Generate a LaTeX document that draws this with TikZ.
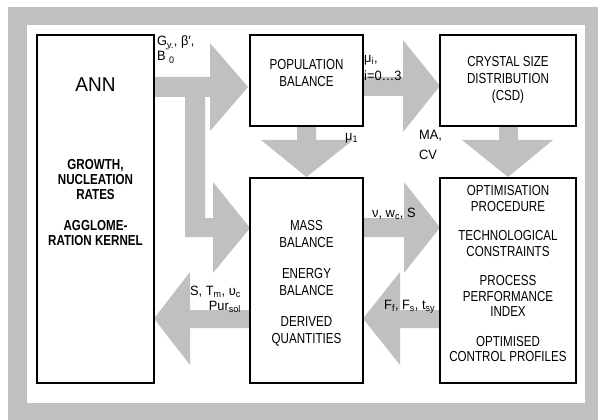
\documentclass[tikz,border=0pt]{standalone}
\usepackage{fontspec}
\setmainfont{Liberation Sans}[FakeStretch=0.8]
\newfontfamily\labelfont{Liberation Sans}[FakeStretch=0.95]
\definecolor{arrowgray}{HTML}{C0C0C0}
\tikzset{
  box/.style={draw, line width=2.4pt, fill=white, inner sep=0pt},
  boxtext/.style={align=center, font=\fontsize{14.5}{17}\selectfont, inner sep=0pt},
  anntext/.style={align=center, font=\fontsize{14.5}{15}\selectfont\bfseries, inner sep=0pt},
  flowlabel/.style={font=\labelfont\fontsize{13.5}{16}\selectfont, inner sep=0pt, align=left},
  blockarrow/.style={fill=arrowgray},
}

\begin{document}
\begin{tikzpicture}[x=1pt, y=-1pt]
    \useasboundingbox (0,0) rectangle (598,420);
    % grey frame
    \fill[arrowgray] (8,7) rectangle (598,420);
    \fill[white] (27,25) rectangle (585,403);
    % block arrows
    \fill[blockarrow] (154,77) -- (210,77) -- (210,43) -- (248,87) -- (210,131) -- (210,97) -- (154,97) -- cycle;
    \fill[blockarrow] (185,97) -- (205,97) -- (205,218) -- (213,218) -- (213,182) -- (250,228) -- (213,273) -- (213,237) -- (185,237) -- cycle;
    \fill[blockarrow] (363,77) -- (403,77) -- (403,40) -- (440,86) -- (403,132) -- (403,96) -- (363,96) -- cycle;
    \fill[blockarrow] (297,126) -- (316,126) -- (316,140) -- (353,140) -- (306.5,177) -- (261,140) -- (297,140) -- cycle;
    \fill[blockarrow] (499,126) -- (518,126) -- (518,140) -- (553,140) -- (508,177) -- (462,140) -- (499,140) -- cycle;
    \fill[blockarrow] (363,218) -- (404,218) -- (404,182) -- (440,227.5) -- (404,273) -- (404,237) -- (363,237) -- cycle;
    \fill[blockarrow] (440,310) -- (400,310) -- (400,272) -- (363,318.5) -- (400,365) -- (400,328) -- (440,328) -- cycle;
    \fill[blockarrow] (250,310) -- (190,310) -- (190,272) -- (154,318.5) -- (190,365) -- (190,328) -- (250,328) -- cycle;
    % labels on the arrows
    \node[flowlabel, anchor=north west, font=\labelfont\fontsize{13.5}{15}\selectfont] (lblgv) at (157,36) {G\textsubscript{v.}, β′,\\B\textsuperscript{˜}\textsubscript{0}};
    \node[flowlabel, anchor=north west, font=\labelfont\fontsize{13.5}{18}\selectfont] (lblmui) at (364,55) {μ\textsubscript{i},\\i=0…3};
    \node[flowlabel, anchor=base west] (lblmu1) at (345,140) {μ\textsubscript{1}};
    \node[flowlabel, anchor=north west, font=\labelfont\fontsize{13.5}{20}\selectfont] (lblma) at (419,130) {MA,\\CV};
    \node[flowlabel, anchor=base west] (lblnu) at (372,217) {ν, w\textsubscript{c}, S};
    \node[flowlabel, anchor=base west] (lblff) at (384,309) {F\textsubscript{f}, F\textsubscript{s}, t\textsubscript{sy}};
    \node[flowlabel, anchor=north east, align=right, font=\labelfont\fontsize{13.5}{15}\selectfont] (lbls) at (241,286) {S, T\textsubscript{m}, υ\textsubscript{c}\\Pur\textsubscript{sol}};
    % boxes
    \node[box, minimum width=117pt, minimum height=348pt] (ann) at (95.5,209) {};
    \node[box, minimum width=113pt, minimum height=91pt] (popbal) at (306.5,80.5) {};
    \node[box, minimum width=136pt, minimum height=91pt] (csd) at (508,80.5) {};
    \node[box, minimum width=113pt, minimum height=205pt] (massbal) at (306.5,280.5) {};
    \node[box, minimum width=136pt, minimum height=205pt] (optim) at (508,280.5) {};
    % box texts
    \node[font=\labelfont\fontsize{20}{22}\selectfont] (anntitle) at (95.5,85) {ANN};
    \node[anntext] (annrates) at (95.5,180) {GROWTH,\\NUCLEATION\\RATES};
    \node[anntext] (annkernel) at (95.5,233.5) {AGGLOME-\\RATION KERNEL};
    \node[boxtext] (poptext) at (306.5,73.5) {POPULATION\\BALANCE};
    \node[boxtext] (csdtext) at (508,80) {CRYSTAL SIZE\\DISTRIBUTION\\(CSD)};
    \node[boxtext] (masstext) at (306.5,283.5) {MASS\\BALANCE\\[14pt]ENERGY\\BALANCE\\[14pt]DERIVED\\QUANTITIES};
    \node[boxtext, font=\fontsize{14.5}{15.5}\selectfont] (optimtext) at (508,274) {OPTIMISATION\\PROCEDURE\\[14pt]TECHNOLOGICAL\\CONSTRAINTS\\[14pt]PROCESS\\PERFORMANCE\\INDEX\\[14pt]OPTIMISED\\CONTROL PROFILES};
\end{tikzpicture}
\end{document}
